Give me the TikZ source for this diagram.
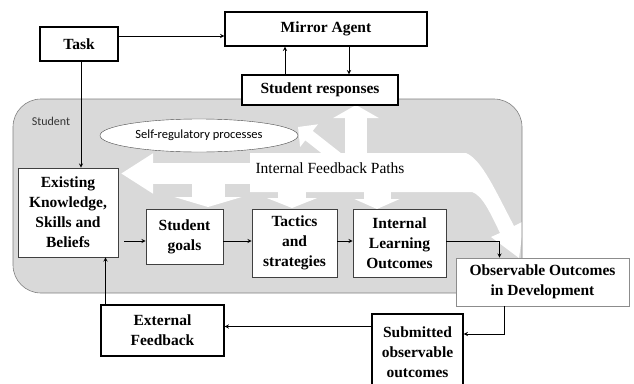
\documentclass[tikz,border=0pt]{standalone}
\usepackage{fontspec}
\setmainfont{Liberation Serif}
\newfontfamily\calibri{Carlito}
\usetikzlibrary{arrows.meta,shapes.geometric}

\begin{document}
\begin{tikzpicture}[x=1pt, y=-1pt,
	box/.style={draw, line width=1.4pt, fill=white, align=center, inner sep=1pt,
		font=\bfseries\fontsize{15.5}{20}\selectfont},
	inbox/.style={box, draw=black!75, line width=0.7pt},
	arr/.style={-stealth, line width=0.9pt},
	fbpath/.style={draw=white, line width=#1}]
\useasboundingbox (0,0) rectangle (634,383);

% student area
\fill [black!15, rounded corners=28pt] (13,99) rectangle (522,293);
\begin{scope}
	\clip [rounded corners=28pt] (13,99) rectangle (522,293);
	% internal feedback paths
	\fill [white] (150,163) rectangle (260,184);
	\fill [white] (250,153) -- (466,153) .. controls (482,160) and (495,190) .. (514,226)
		-- (524,221) -- (519,258) -- (491,237) -- (500,233)
		.. controls (490,212) and (482,195) .. (472,192) -- (250,192) -- cycle;
	\draw [fbpath=21pt, -{Triangle[length=32pt,width=38pt]}] (200,173.5) -- (121,173.5);
	\foreach \x/\y/\w/\hw/\tip in {208/183/33/67/207, 292/191/28/50/208, 377/191/27/45/209}
		\draw [fbpath=\w pt, -{Triangle[length=10pt,width=\hw pt]}] (\x,\y) -- (\x,\tip);
	\draw [fbpath=22pt, -{Triangle[length=13pt,width=45pt]}] (356,165) -- (356,105);
	\draw [fbpath=12pt, -{Triangle[length=14pt,width=28pt]}] (340,160) -- (298,127);
\end{scope}
\draw [black!50, line width=0.6pt, rounded corners=28pt] (13,99) rectangle (522,293);

\node (student) at (51,121) [font=\calibri\fontsize{12}{14}\selectfont, text=black!80] {Student};
\node (selfreg) at (199,135.5) [ellipse, draw=black!70, fill=white, inner sep=0,
	minimum width=198pt, minimum height=33pt, font=\calibri\fontsize{12.5}{15}\selectfont]
	{Self-regulatory processes};
\node (paths) at (330,168) [font=\fontsize{15.5}{18}\selectfont] {Internal Feedback Paths};

% boxes
\node (task) at (79,44) [box, minimum width=78pt, minimum height=34pt] {Task};
\node (mirror) at (326,29) [box, minimum width=202pt, minimum height=34pt] {Mirror Agent};
\node (resp) at (320,90) [box, minimum width=156pt, minimum height=30pt] {Student responses};
\node (exist) at (68,212.5) [inbox, minimum width=100pt, minimum height=89pt]
	{Existing\\Knowledge,\\Skills and\\Beliefs};
\node (goals) at (184.5,236.5) [inbox, minimum width=77pt, minimum height=55pt] {Student\\goals};
\node (tactics) at (294.5,243) [inbox, minimum width=85pt, minimum height=68pt] {Tactics\\and\\strategies};
\node (ilo) at (399.5,243) [inbox, minimum width=93pt, minimum height=68pt] {Internal\\Learning\\Outcomes};
\node (obs) at (542.5,282) [inbox, draw=black!45, minimum width=173pt, minimum height=48pt]
	{Observable Outcomes\\in Development};
\node (subm) at (417.5,352) [box, minimum width=91pt, minimum height=76pt] {Submitted\\observable\\outcomes};
\node (extfb) at (162.5,330.5) [box, minimum width=123pt, minimum height=51pt] {External\\Feedback};

% connectors
\coordinate (row) at (0,241);
\draw [arr] ([yshift=8pt]task.east) -- ([yshift=8pt]task.east -| mirror.west);
\draw [arr] ([xshift=-35pt]resp.north) -- ([xshift=-35pt]resp.north |- mirror.south);
\draw [arr] ([xshift=29pt]resp.north |- mirror.south) -- ([xshift=29pt]resp.north);
\draw [arr] ([xshift=2pt]task.south) -- ([xshift=2pt]task.south |- exist.north);
\draw [arr, shorten <=6pt] (exist.east |- row) -- (goals.west |- row);
\draw [arr] (goals.east |- row) -- (tactics.west |- row);
\draw [arr] (tactics.east |- row) -- (ilo.west |- row);
\draw [arr] (ilo.east |- row) -| ([xshift=-43pt]obs.north);
\draw [arr] ([xshift=-38pt]obs.south) |- ([yshift=18pt]subm.east);
\draw [arr] ([yshift=4pt]extfb.east -| subm.west) -- ([yshift=4pt]extfb.east);
\draw [arr] ([xshift=-57pt]extfb.north) -- ([xshift=-57pt]extfb.north |- exist.south);
\end{tikzpicture}
\end{document}
